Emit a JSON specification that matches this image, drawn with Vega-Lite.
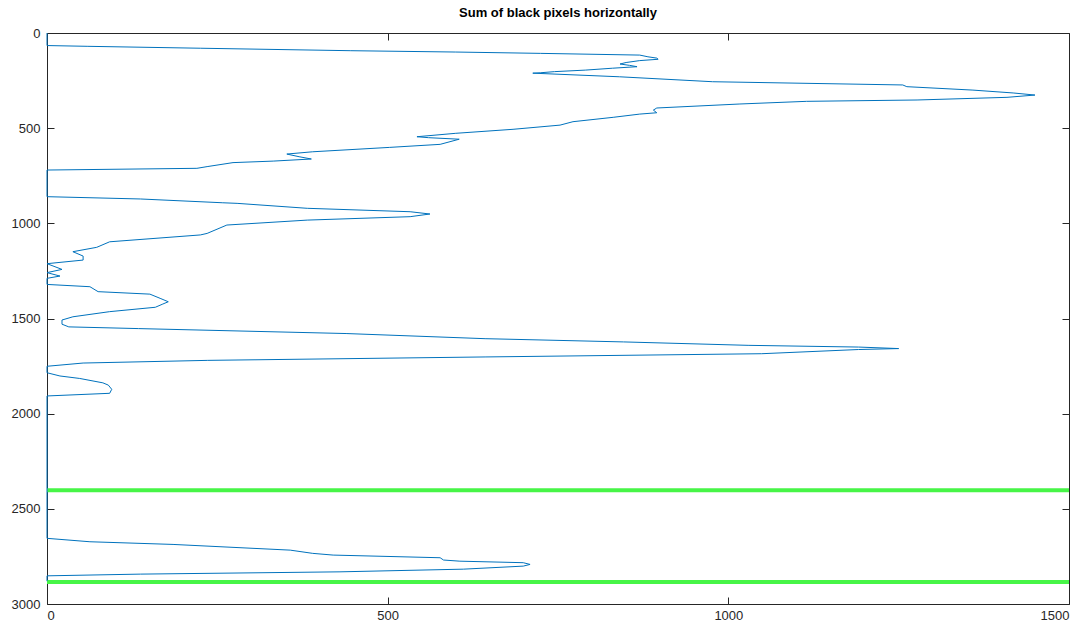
{
  "$schema": "https://vega.github.io/schema/vega-lite/v6.json",
  "autosize": "none",
  "width": 1022,
  "height": 571,
  "padding": {"left": 47, "top": 33, "right": 17, "bottom": 19},
  "background": "white",
  "config": {
    "font": "Liberation Sans",
    "view": {"stroke": "#262626", "strokeWidth": 1},
    "axis": {"grid": false, "domain": false, "labelFont": "Liberation Sans", "labelFontSize": 13, "labelColor": "#262626", "tickColor": "#262626", "title": null, "format": "d", "tickSize": -7}
  },
  "title": {"text": "Sum of black pixels horizontally", "fontSize": 13, "fontWeight": "bold", "font": "Liberation Sans", "color": "#000000", "offset": 7},
  "datasets": {
    "profile": [
      {"r":0,"s":0},{"r":66,"s":0},{"r":70,"s":60},{"r":80,"s":225},{"r":93,"s":445},{"r":100,"s":600},{"r":107,"s":724},{"r":116,"s":870},{"r":125,"s":882},{"r":132,"s":895},{"r":138,"s":897},{"r":145,"s":870},{"r":155,"s":850},{"r":163,"s":841},{"r":170,"s":855},{"r":177,"s":866},{"r":185,"s":830},{"r":195,"s":790},{"r":203,"s":745},{"r":209,"s":724},{"r":211,"s":713},{"r":230,"s":840},{"r":256,"s":977},{"r":273,"s":1256},{"r":282,"s":1262},{"r":300,"s":1359},{"r":315,"s":1418},{"r":326,"s":1450},{"r":338,"s":1409},{"r":352,"s":1277},{"r":359,"s":1115},{"r":373,"s":1017},{"r":394,"s":895},{"r":405,"s":890},{"r":419,"s":895},{"r":426,"s":870},{"r":443,"s":831},{"r":466,"s":772},{"r":484,"s":753},{"r":506,"s":684},{"r":527,"s":600},{"r":545,"s":543},{"r":550,"s":560},{"r":558,"s":605},{"r":585,"s":577},{"r":601,"s":503},{"r":624,"s":390},{"r":636,"s":352},{"r":650,"s":370},{"r":662,"s":388},{"r":673,"s":332},{"r":681,"s":273},{"r":702,"s":235},{"r":711,"s":220},{"r":720,"s":0},{"r":860,"s":0},{"r":872,"s":137},{"r":892,"s":258},{"r":895,"s":279},{"r":921,"s":382},{"r":939,"s":533},{"r":951,"s":562},{"r":965,"s":533},{"r":983,"s":382},{"r":1009,"s":264},{"r":1053,"s":235},{"r":1061,"s":225},{"r":1097,"s":92},{"r":1126,"s":73},{"r":1149,"s":38},{"r":1172,"s":53},{"r":1193,"s":53},{"r":1212,"s":0},{"r":1242,"s":22},{"r":1259,"s":0},{"r":1277,"s":19},{"r":1289,"s":0},{"r":1321,"s":0},{"r":1333,"s":63},{"r":1359,"s":75},{"r":1372,"s":151},{"r":1394,"s":166},{"r":1412,"s":178},{"r":1424,"s":170},{"r":1441,"s":159},{"r":1464,"s":92},{"r":1491,"s":38},{"r":1508,"s":22},{"r":1530,"s":22},{"r":1544,"s":32},{"r":1553,"s":134},{"r":1579,"s":439},{"r":1606,"s":643},{"r":1623,"s":846},{"r":1641,"s":1029},{"r":1650,"s":1191},{"r":1658,"s":1250},{"r":1663,"s":1191},{"r":1685,"s":1049},{"r":1702,"s":643},{"r":1720,"s":236},{"r":1734,"s":53},{"r":1751,"s":0},{"r":1785,"s":0},{"r":1802,"s":19},{"r":1815,"s":48},{"r":1838,"s":82},{"r":1850,"s":90},{"r":1872,"s":95},{"r":1893,"s":92},{"r":1907,"s":0},{"r":2655,"s":0},{"r":2673,"s":63},{"r":2687,"s":185},{"r":2717,"s":357},{"r":2734,"s":390},{"r":2743,"s":420},{"r":2757,"s":577},{"r":2769,"s":582},{"r":2775,"s":606},{"r":2783,"s":699},{"r":2792,"s":709},{"r":2801,"s":699},{"r":2817,"s":611},{"r":2831,"s":430},{"r":2843,"s":137},{"r":2852,"s":0},{"r":2880,"s":0}
    ],
    "bounds": [{"r": 2402}, {"r": 2885}]
  },
  "resolve": {"axis": {"x": "independent", "y": "independent"}},
  "layer": [
    {
      "data": {"name": "profile"},
      "mark": {"type": "line", "opacity": 0},
      "encoding": {
        "x": {"field": "s", "type": "quantitative", "scale": {"domain": [0, 1500], "nice": false},
              "axis": {"orient": "top", "values": [0, 500, 1000, 1500], "labels": false}},
        "y": {"field": "r", "type": "quantitative", "scale": {"domain": [0, 3000], "reverse": true, "nice": false},
              "axis": {"orient": "right", "values": [0, 500, 1000, 1500, 2000, 2500, 3000], "labels": false}},
        "order": {"field": "r", "type": "quantitative"}
      }
    },
    {
      "data": {"name": "bounds"},
      "mark": {"type": "rule", "color": "#47f547", "strokeWidth": 4},
      "encoding": {
        "y": {"field": "r", "type": "quantitative",
              "axis": {"orient": "left", "values": [0, 500, 1000, 1500, 2000, 2500, 3000], "labelPadding": 14}}
      }
    },
    {
      "data": {"name": "profile"},
      "mark": {"type": "line", "color": "#0072BD", "strokeWidth": 1, "interpolate": "linear"},
      "encoding": {
        "x": {"field": "s", "type": "quantitative",
              "axis": {"orient": "bottom", "values": [0, 500, 1000, 1500], "labelPadding": 12}},
        "y": {"field": "r", "type": "quantitative", "axis": null},
        "order": {"field": "r", "type": "quantitative"}
      }
    }
  ]
}
